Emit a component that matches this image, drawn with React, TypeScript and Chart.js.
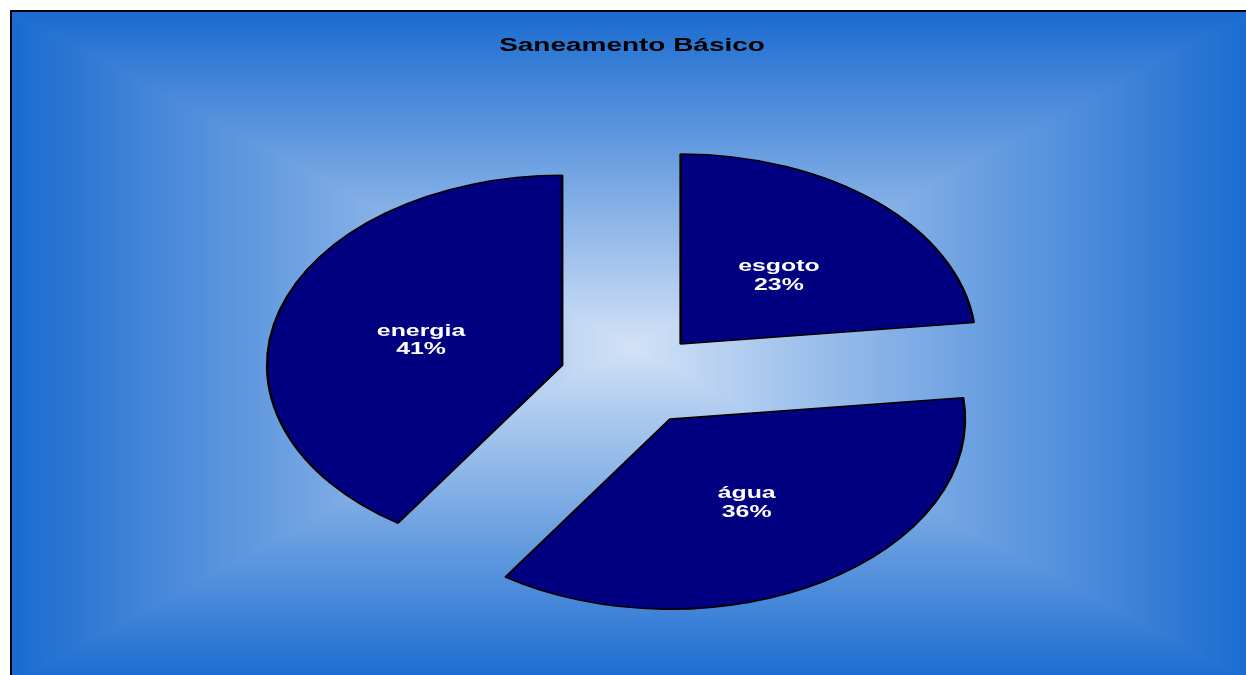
import React, { useEffect, useRef } from 'react';
import { Chart, ArcElement, PieController, registerables } from 'chart.js';

Chart.register(...registerables);

// ---- data ----
const TITLE = 'Saneamento Básico';
const CATEGORIES = ['esgoto', 'água', 'energia'];
const VALUES = [23.2, 36.2, 40.6];

// ---- style ----
const STRETCH = 1.553; // horizontal stretch of the whole chart (ellipse look)
const EXPLODE = 47; // explosion distance (in un-stretched px)
const RADIUS = 190;
const LABEL_POS = 0.5;
const SLICE_COLOR = '#000080';
const EDGE_COLOR = '#1a6bd0';
const CENTER_COLOR = '#d2e2f6';
const FONT_FAMILY = '"Liberation Sans", Arial, Helvetica, sans-serif';

class ExplodedArc extends ArcElement {
  static id = 'explodedArc';
  draw(ctx: CanvasRenderingContext2D) {
    const self: any = this;
    const half = (self.startAngle + self.endAngle) / 2;
    ctx.save();
    ctx.translate(self.x, self.y);
    ctx.scale(STRETCH, 1);
    ctx.translate(Math.cos(half) * EXPLODE - self.x, Math.sin(half) * EXPLODE - self.y);
    super.draw(ctx);
    ctx.restore();
  }
}

class ExplodedPie extends PieController {
  static id = 'explodedPie';
  static defaults = { dataElementType: 'explodedArc' };
}

Chart.register(ExplodedArc as any, ExplodedPie as any);

const decorPlugin = {
  id: 'decor',
  beforeDraw(chart: any) {
    const { ctx, width, height } = chart;
    const cx = width / 2;
    const cy = height / 2;
    ctx.save();
    // vertical gradient over the whole area (top & bottom quadrants)
    const gv = ctx.createLinearGradient(0, 0, 0, height);
    gv.addColorStop(0, EDGE_COLOR);
    gv.addColorStop(0.5, CENTER_COLOR);
    gv.addColorStop(1, EDGE_COLOR);
    ctx.fillStyle = gv;
    ctx.fillRect(0, 0, width, height);
    // horizontal gradient in the left & right triangles
    const gh = ctx.createLinearGradient(0, 0, width, 0);
    gh.addColorStop(0, EDGE_COLOR);
    gh.addColorStop(0.5, CENTER_COLOR);
    gh.addColorStop(1, EDGE_COLOR);
    ctx.fillStyle = gh;
    ctx.beginPath();
    ctx.moveTo(0, 0);
    ctx.lineTo(cx, cy);
    ctx.lineTo(0, height);
    ctx.closePath();
    ctx.moveTo(width, 0);
    ctx.lineTo(cx, cy);
    ctx.lineTo(width, height);
    ctx.closePath();
    ctx.fill();

    // title
    ctx.translate(cx, 39);
    ctx.scale(STRETCH, 1);
    ctx.font = `bold 18px ${FONT_FAMILY}`;
    ctx.fillStyle = '#000';
    ctx.textAlign = 'center';
    ctx.textBaseline = 'alphabetic';
    ctx.fillText(TITLE, 0, 0);
    ctx.restore();
  },
  afterDatasetsDraw(chart: any) {
    const { ctx } = chart;
    const meta = chart.getDatasetMeta(0);
    const data: number[] = chart.data.datasets[0].data;
    const total = data.reduce((a, b) => a + b, 0);
    meta.data.forEach((el: any, i: number) => {
      const half = (el.startAngle + el.endAngle) / 2;
      const r = EXPLODE + el.outerRadius * LABEL_POS;
      const px = el.x + Math.cos(half) * r * STRETCH;
      const py = el.y + Math.sin(half) * r;
      ctx.save();
      ctx.translate(px, py);
      ctx.scale(STRETCH, 1);
      ctx.font = `bold 16px ${FONT_FAMILY}`;
      ctx.fillStyle = '#fff';
      ctx.textAlign = 'center';
      ctx.textBaseline = 'alphabetic';
      ctx.fillText(String(chart.data.labels[i]), 0, -2);
      ctx.fillText(`${Math.round((data[i] / total) * 100)}%`, 0, 16.5);
      ctx.restore();
    });
  },
};

export default function App() {
  const ref = useRef<HTMLCanvasElement>(null);
  useEffect(() => {
    const chart = new Chart(ref.current as HTMLCanvasElement, {
      type: 'explodedPie' as any,
      data: {
        labels: CATEGORIES,
        datasets: [
          {
            data: VALUES,
            backgroundColor: SLICE_COLOR,
            borderColor: '#000',
            borderWidth: 1.6,
            clip: false,
          } as any,
        ],
      },
      options: {
        responsive: false,
        animation: false,
        radius: RADIUS,
        layout: { padding: { top: 64 } },
        events: [],
        plugins: {
          legend: { display: false },
          tooltip: { enabled: false },
          title: { display: false },
        },
      } as any,
      plugins: [decorPlugin],
    });
    return () => chart.destroy();
  }, []);
  return (
    <div
      style={{
        position: 'fixed',
        left: 10,
        top: 10,
        right: 0,
        bottom: 0,
        overflow: 'hidden',
        borderLeft: '2px solid #000',
        borderTop: '2px solid #000',
      }}
    >
      <canvas ref={ref} width={1240} height={670} style={{ display: 'block' }} />
    </div>
  );
}
